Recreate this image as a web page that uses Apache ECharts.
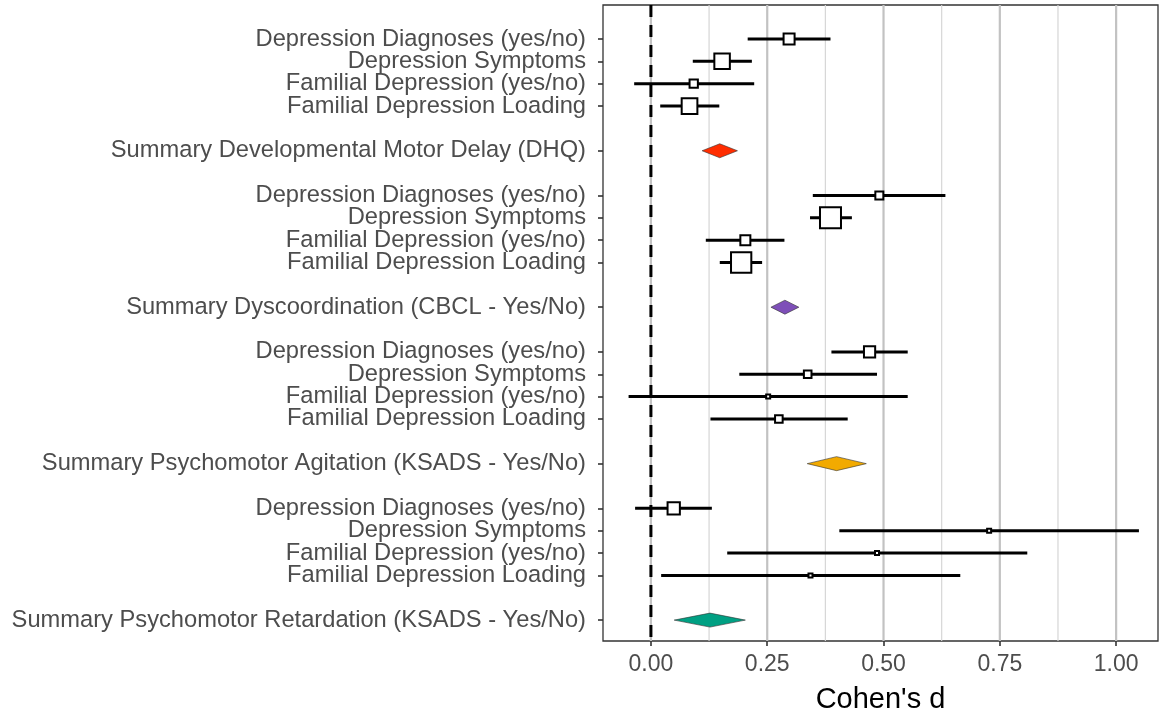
<!DOCTYPE html>
<html>
<head>
<meta charset="utf-8">
<script src="https://cdn.jsdelivr.net/npm/echarts@6/dist/echarts.min.js"></script>
<style>html,body{margin:0;padding:0;background:#fff;}#chart{width:1159px;height:717px;}</style>
</head>
<body>
<div id="chart"></div>
<script>
// ---- data ----
const outcomeNames = ["Depression Diagnoses (yes/no)", "Depression Symptoms", "Familial Depression (yes/no)", "Familial Depression Loading"];
const summaryNames = [
  "Summary Developmental Motor Delay (DHQ)",
  "Summary Dyscoordination (CBCL - Yes/No)",
  "Summary Psychomotor Agitation (KSADS - Yes/No)",
  "Summary Psychomotor Retardation (KSADS - Yes/No)"
];
const estimates = [
  [0.297, 0.153, 0.092, 0.083],
  [0.491, 0.386, 0.203, 0.194],
  [0.470, 0.337, 0.252, 0.275],
  [0.049, 0.727, 0.486, 0.343]
];
const lowers = [
  [0.208, 0.090, -0.036, 0.020],
  [0.348, 0.342, 0.118, 0.148],
  [0.388, 0.190, -0.048, 0.128],
  [-0.034, 0.405, 0.164, 0.022]
];
const uppers = [
  [0.386, 0.217, 0.222, 0.147],
  [0.633, 0.432, 0.287, 0.239],
  [0.552, 0.486, 0.552, 0.423],
  [0.131, 1.049, 0.809, 0.665]
];
const weights = [
  [11, 15.5, 8.3, 15.7],
  [8, 21, 10, 20.3],
  [11.2, 7.6, 4, 7.6],
  [12.3, 4, 4, 4]
];
const summaryEst = [0.148, 0.288, 0.399, 0.127];
const summaryLower = [0.110, 0.258, 0.336, 0.050];
const summaryUpper = [0.186, 0.318, 0.463, 0.203];
const xTicks = [0, 0.25, 0.5, 0.75, 1.0];
const xMinorGrid = [0.125, 0.375, 0.625, 0.875];

// ---- layout helpers ----
const summaryColors = ['#FF2D00', '#7E4FB8', '#F2AA00', '#00A083'];
const rowsPerGroup = 7;
const nRows = summaryNames.length * rowsPerGroup - 1; // 27 rows (0..26)
const rowLabels = new Array(nRows).fill('');
const forestData = [];
const diamondData = [];
for (let g = 0; g < summaryNames.length; g++) {
  for (let i = 0; i < outcomeNames.length; i++) {
    const y = g * rowsPerGroup + i;
    rowLabels[y] = outcomeNames[i];
    forestData.push([lowers[g][i], uppers[g][i], estimates[g][i], y, weights[g][i]]);
  }
  const ys = g * rowsPerGroup + 5;
  rowLabels[ys] = summaryNames[g];
  diamondData.push([summaryLower[g], summaryUpper[g], summaryEst[g], ys, g]);
}
const gridData = xTicks.map(v => [v, 1]).concat(xMinorGrid.map(v => [v, 0]));

// pixel geometry
const plotTop = 5, plotBottom = 641, row0 = 39, rowStep = 22.35;
const yMin = (plotTop - row0) / rowStep;
const yMax = (plotBottom - row0) / rowStep;
const labTop = row0 - rowStep / 2;
const labHeight = nRows * rowStep;

const chart = echarts.init(document.getElementById('chart'), null, {renderer: 'canvas'});
const FONT = 'Liberation Sans, Arial, Helvetica, sans-serif';

const option = {
  animation: false,
  backgroundColor: '#fff',
  grid: [
    {left: 603, right: 1, top: plotTop, bottom: 717 - plotBottom, show: true, borderColor: '#333', borderWidth: 1.3, backgroundColor: 'transparent', containLabel: false, outerBoundsMode: 'none'},
    {left: 603, right: 1, top: labTop, height: labHeight, show: false, containLabel: false, outerBoundsMode: 'none'}
  ],
  xAxis: [{
    gridIndex: 0, type: 'value', min: -0.103, max: 1.09, position: 'bottom',
    axisLine: {show: false, onZero: false},
    splitLine: {show: false},
    axisTick: {show: true, customValues: xTicks, length: 5, lineStyle: {color: '#333', width: 1.6}},
    axisLabel: {customValues: xTicks, formatter: v => Number(v).toFixed(2), color: '#4D4D4D', fontSize: 23, fontFamily: FONT, margin: 12},
    name: "Cohen's d", nameLocation: 'middle', nameGap: 44,
    nameTextStyle: {color: '#000', fontSize: 29, fontFamily: FONT}
  }, {
    gridIndex: 1, type: 'value', show: false, min: 0, max: 1
  }],
  yAxis: [{
    gridIndex: 0, type: 'value', inverse: true, min: yMin, max: yMax,
    axisLine: {show: false, onZero: false},
    splitLine: {show: false}, axisTick: {show: false}, axisLabel: {show: false}
  }, {
    gridIndex: 1, type: 'category', inverse: true, data: rowLabels, boundaryGap: true,
    axisLine: {show: false, onZero: false},
    splitLine: {show: false},
    axisTick: {show: true, alignWithLabel: true, interval: (idx, val) => val !== '', length: 5, lineStyle: {color: '#333', width: 1.6}},
    axisLabel: {interval: 0, color: '#4D4D4D', fontSize: 23.7, fontFamily: FONT, margin: 17}
  }],
  series: [
    {
      type: 'custom', z: 1, silent: true, clip: true,
      data: gridData,
      encode: {x: 0},
      renderItem: function (params, api) {
        const cs = params.coordSys;
        const x = api.coord([api.value(0), 0])[0];
        const major = api.value(1) === 1;
        return {type: 'line', shape: {x1: x, y1: cs.y, x2: x, y2: cs.y + cs.height},
          style: {stroke: major ? '#C2C2C2' : '#D6D6D6', lineWidth: major ? 2.2 : 1.2}};
      }
    },
    {
      type: 'custom', z: 2, silent: true, clip: true,
      data: [[0]],
      encode: {x: 0},
      renderItem: function (params, api) {
        const cs = params.coordSys;
        const x = api.coord([api.value(0), 0])[0];
        return {type: 'line', shape: {x1: x, y1: cs.y, x2: x, y2: cs.y + cs.height},
          style: {stroke: '#000', lineWidth: 3, lineDash: [12, 8]}};
      }
    },
    {
      type: 'custom', z: 3, silent: true, clip: true,
      data: forestData,
      encode: {x: [0, 1, 2], y: 3},
      renderItem: function (params, api) {
        const y = api.value(3);
        const lo = api.coord([api.value(0), y]);
        const hi = api.coord([api.value(1), y]);
        const c = api.coord([api.value(2), y]);
        const s = api.value(4);
        return {type: 'group', children: [
          {type: 'line', shape: {x1: lo[0], y1: lo[1], x2: hi[0], y2: hi[1]}, style: {stroke: '#000', lineWidth: 3}},
          {type: 'rect', shape: {x: c[0] - s / 2, y: c[1] - s / 2, width: s, height: s}, style: {fill: '#fff', stroke: '#000', lineWidth: 2}}
        ]};
      }
    },
    {
      type: 'custom', z: 3, silent: true, clip: true,
      data: diamondData,
      encode: {x: [0, 1, 2], y: 3},
      renderItem: function (params, api) {
        const y = api.value(3);
        const lo = api.coord([api.value(0), y]);
        const hi = api.coord([api.value(1), y]);
        const c = api.coord([api.value(2), y]);
        const h = 7;
        return {type: 'polygon', shape: {points: [[lo[0], lo[1]], [c[0], c[1] - h], [hi[0], hi[1]], [c[0], c[1] + h]]},
          style: {fill: summaryColors[api.value(4)], stroke: '#333', lineWidth: 0.6}};
      }
    }
  ]
};
chart.setOption(option);
</script>
</body>
</html>
